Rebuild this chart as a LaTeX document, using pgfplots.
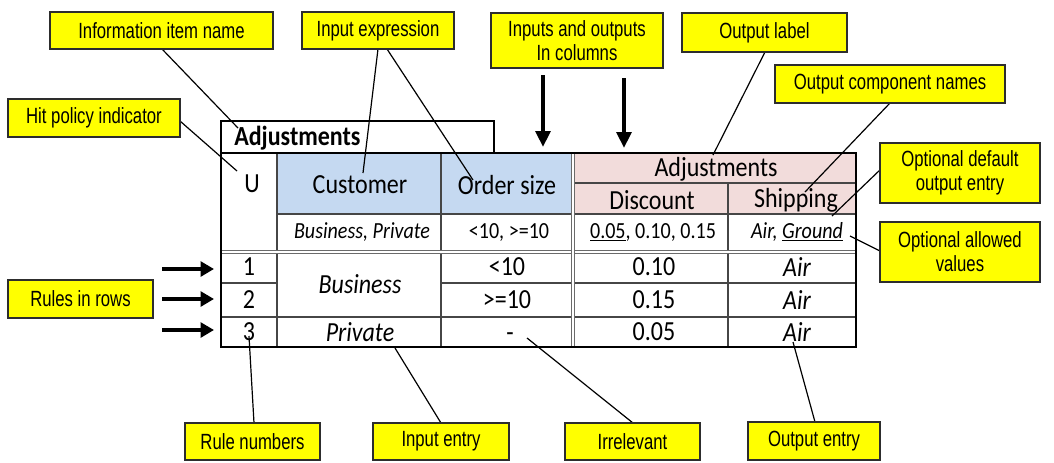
\documentclass[border=0pt]{standalone}
\usepackage{pgfplots}
\pgfplotsset{compat=1.18}
\usepackage{fontspec}
\usetikzlibrary{arrows.meta}
\newfontfamily\callfont[FakeStretch=0.76]{Liberation Sans}
\newfontfamily\tabfont[FakeStretch=0.87]{Carlito}
\definecolor{calloutyellow}{RGB}{255,255,0}
\definecolor{hdrblue}{RGB}{197,217,241}
\definecolor{hdrpink}{RGB}{242,220,219}
\definecolor{edge}{RGB}{45,45,45}
\definecolor{grid}{RGB}{70,70,70}
\newcommand\call[5]{%
  \draw[fill=calloutyellow, draw=edge, line width=1.3pt] (#1,#2) rectangle (#3,#4);
  \node[align=center, inner sep=0pt, font=\callfont\fontsize{16.5}{18}\selectfont] at ({(#1+#3)/2},{(#2+#4)/2}) {#5};
}
\newcommand\tb{\tabfont\fontsize{20.7}{22}\selectfont}
\newcommand\ts{\tabfont\fontsize{17.3}{19}\selectfont}
\begin{document}
\begin{tikzpicture}
\begin{axis}[scale only axis, width=790.5pt, height=346.5pt,
  xmin=0, xmax=1054, ymin=0, ymax=462, y dir=reverse,
  hide axis, clip=false]
\path (0,0) rectangle (1054,462);
% fills
\fill[hdrblue] (277,153) rectangle (573,214);
\fill[hdrpink] (573,153) rectangle (856,214);
% inner grid
\draw[grid, line width=0.8pt] (277,153) -- (277,347);
\draw[grid, line width=0.8pt] (441,153) -- (441,347);
\draw[grid, line width=0.8pt] (728,183) -- (728,347);
\draw[grid, line width=0.8pt] (573,183) -- (856,183);
\draw[grid, line width=0.8pt] (277,214) -- (856,214);
\draw[grid, line width=0.8pt] (221,283) -- (277,283);
\draw[grid, line width=0.8pt] (441,283) -- (856,283);
\draw[grid, line width=0.8pt] (221,317) -- (856,317);
\draw[grid!80, line width=0.7pt, double=white, double distance=0.9pt] (221,252) -- (856,252);
\draw[grid!80, line width=0.7pt, double=white, double distance=0.9pt] (573,153) -- (573,347);
% outer frames
\draw[black, line width=1.1pt] (221,153) -- (221,121) -- (494,121) -- (494,153);
\draw[black, line width=1.6pt] (221,153) rectangle (856,347);
% table text
\node[anchor=west, inner sep=0pt, font=\tb\bfseries] at (234,138) {Adjustments};
\node[font=\tb] at (252,184) {U};
\node[font=\tb] at (360,185) {Customer};
\node[font=\tb] at (507,185) {Order size};
\node[font=\tb] at (716,169) {Adjustments};
\node[font=\tb] at (652,200) {Discount};
\node[font=\tb] at (796,200) {Shipping};
\node[font=\ts\itshape] at (362,232) {Business, Private};
\node[font=\ts] at (509,232) {<10, >=10};
\node[font=\ts] at (653,232) {\underline{0.05}, 0.10, 0.15};
\node[font=\ts\itshape] at (797,232) {Air, \underline{Ground}};
\node[font=\tb] at (249,267) {1};
\node[font=\tb] at (249,300) {2};
\node[font=\tb] at (249,332) {3};
\node[font=\tb\itshape] at (360,284) {Business};
\node[font=\tb\itshape] at (360,332) {Private};
\node[font=\tb] at (507,267) {<10};
\node[font=\tb] at (507,300) {>=10};
\node[font=\tb, anchor=base] at (510,341) {-};
\node[font=\tb] at (654,267) {0.10};
\node[font=\tb] at (654,300) {0.15};
\node[font=\tb] at (654,332) {0.05};
\node[font=\tb\itshape] at (797,267) {Air};
\node[font=\tb\itshape] at (797,300) {Air};
\node[font=\tb\itshape] at (797,332) {Air};
% leader lines
\draw[black, line width=0.9pt] (162,49) -- (238,128);
\draw[black, line width=0.9pt] (378,49) -- (363,173);
\draw[black, line width=0.9pt] (387,49) -- (473,180);
\draw[black, line width=0.9pt] (180,121) -- (237,171);
\draw[black, line width=0.9pt] (765,52) -- (713,155);
\draw[black, line width=0.9pt] (890,103) -- (805,192);
\draw[black, line width=0.9pt] (882,168) -- (832,216);
\draw[black, line width=0.9pt] (880,251) -- (850,236);
\draw[black, line width=0.9pt] (254,423) -- (249,336);
\draw[black, line width=0.9pt] (441,423) -- (395,348);
\draw[black, line width=0.9pt] (633,423) -- (527,338);
\draw[black, line width=0.9pt] (815,422) -- (793,342);
% big arrows
\draw[black, line width=3.6pt, -{Triangle[length=12pt, width=11pt]}] (543,75) -- (543,147);
\draw[black, line width=3.6pt, -{Triangle[length=12pt, width=11pt]}] (624,78) -- (624,148);
\draw[black, line width=3.4pt, -{Triangle[length=10pt, width=11pt]}] (162,269) -- (214,269);
\draw[black, line width=3.4pt, -{Triangle[length=10pt, width=11pt]}] (162,299) -- (214,299);
\draw[black, line width=3.4pt, -{Triangle[length=10pt, width=11pt]}] (162,330) -- (214,330);
% callouts
\call{50}{12}{273}{49}{Information item name}
\call{302}{12}{454}{49}{Input expression}
\call{491}{13}{663}{68}{Inputs and outputs\\In columns}
\call{682}{13}{847}{52}{Output label}
\call{775}{65}{1005}{103}{Output component names}
\call{880}{143}{1040}{203}{Optional default\\output entry}
\call{880}{222}{1040}{282}{Optional allowed\\values}
\call{8}{99}{180}{137}{Hit policy indicator}
\call{8}{280}{153}{318}{Rules in rows}
\call{185}{423}{320}{460}{Rule numbers}
\call{373}{423}{509}{460}{Input entry}
\call{565}{423}{700}{460}{Irrelevant}
\call{748}{422}{880}{460}{Output entry}
\end{axis}
\end{tikzpicture}
\end{document}
